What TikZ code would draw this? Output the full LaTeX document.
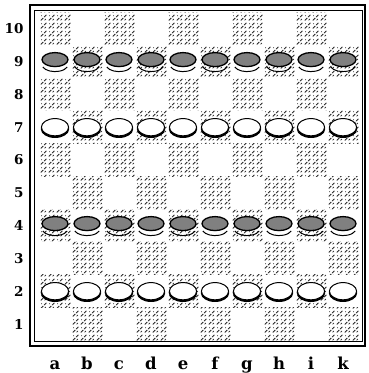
\documentclass[tikz,border=0pt]{standalone}
\usepackage{fontspec}
\setmainfont{DejaVu Serif}
\usetikzlibrary{patterns.meta}

\tikzdeclarepattern{
  name=speckle,
  type=uncolored,
  bounding box={(0pt,0pt) and (8pt,8pt)},
  tile size={(8pt,8pt)},
  code={
    \draw[line width=0.9pt] (0.8pt,0.6pt) -- (3.6pt,3.4pt);
    \draw[line width=0.9pt] (4.6pt,4.4pt) -- (7pt,6.8pt);
    \draw[line width=0.8pt] (5pt,0.8pt) -- (6.4pt,2.2pt);
    \fill (1.8pt,5.8pt) circle (0.6pt);
  }
}

\begin{document}
\begin{tikzpicture}[x=1pt,y=1pt,
 darksq/.style={pattern=speckle,pattern color=black!85},
 rank/.style={font=\bfseries\fontsize{13.5}{13.5}\selectfont,anchor=east},
 file/.style={font=\bfseries\fontsize{16.5}{16.5}\selectfont,anchor=base},
 blackpc/.style={draw,line width=1.3pt,fill=black!50},
 rim/.style={line width=1pt},
 whitepc/.style={draw,line width=1pt,fill=white}]
\useasboundingbox (0,0) rectangle (368,373);
% frame
\draw[line width=2.6pt] (30,27) rectangle (365,368);
\draw[line width=0.9pt] (34,32) rectangle (362,363);
% dark squares
\foreach \c in {1,...,10}
  \foreach \r in {1,...,10}{
    \pgfmathparse{int(mod(\c+\r,2))}
    \ifnum\pgfmathresult=1
      \fill[darksq] ({39+32*(\c-1)},{32.6+32.8*(\r-1)}) rectangle +(32,32.8);
    \fi}
% ranks and files
\foreach \n in {1,...,10}
  \node[rank] (r\n) at (27,{49+32.8*(\n-1)}) {\n};
\foreach \f [count=\c] in {a,b,c,d,e,f,g,h,i,k}
  \node[file] (f\f) at ({55+32*(\c-1)},4) {\f};
% dark men on 9 and 4
\foreach \c in {1,...,10}
  \foreach \y in {311.4,147.4}{
    \draw[blackpc] ({55+32*(\c-1)},\y+2) ellipse (13 and 7);
    \draw[rim] ({55+32*(\c-1)-12.2},\y-5.4) arc[start angle=200,end angle=340,x radius=13,y radius=7];
  }
% white men on 7 and 2
\foreach \c in {1,...,10}
  \foreach \y in {245.8,81.8}{
    \fill ({55+32*(\c-1)},\y-1.8) ellipse (14.2 and 9);
    \draw[whitepc] ({55+32*(\c-1)},\y) ellipse (13.6 and 8.6);
  }
\end{tikzpicture}
\end{document}
